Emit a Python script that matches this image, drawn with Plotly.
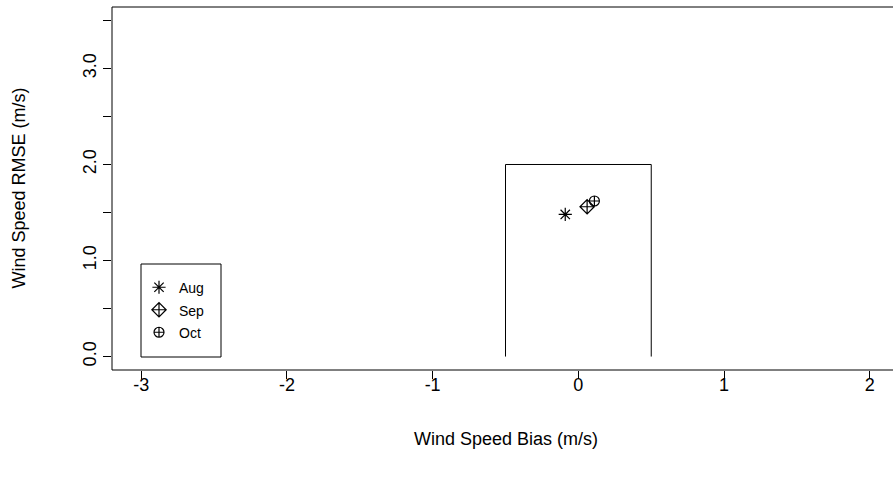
import plotly.graph_objects as go

# ---- data ----
months = ["Aug", "Sep", "Oct"]
bias_values = [-0.09, 0.06, 0.11]
rmse_values = [1.48, 1.56, 1.62]
month_symbols = ["asterisk-open", "diamond-cross-open", "circle-cross-open"]
month_sizes = [11, 11, 10]

target_bias_limits = [-0.5, 0.5]
target_rmse_limit = 2.0

x_tick_values = [-3, -2, -1, 0, 1, 2]
x_tick_labels = ["-3", "-2", "-1", "0", "1", "2"]
y_tick_values = [0, 0.5, 1, 1.5, 2, 2.5, 3, 3.5]
y_tick_labels = ["0.0", "", "1.0", "", "2.0", "", "3.0", ""]

x_title = "Wind Speed Bias (m/s)"
y_title = "Wind Speed RMSE (m/s)"

xlim = [-3, 2]
ylim = [0, 3.5]

# ---- layout constants ----
W, H = 893, 485
ML, MR, MT, MB = 112, 0, 7, 115
FONT = "Liberation Sans, Arial, Helvetica, sans-serif"
FS = 18
LEG_FS = 14

def expand(lim, f=0.04):
    d = (lim[1] - lim[0]) * f
    return [lim[0] - d, lim[1] + d]

xr_full = expand(xlim)
yr = expand(ylim)
# plot region of the original extends ~6px beyond the image on the right
px_per_x = (W - ML + 6) / (xr_full[1] - xr_full[0])
xr = [xr_full[0], xr_full[0] + (W - ML) / px_per_x]

fig = go.Figure()

# target box (three sides, open at bottom)
fig.add_trace(go.Scatter(
    x=[target_bias_limits[0], target_bias_limits[0], target_bias_limits[1], target_bias_limits[1]],
    y=[0, target_rmse_limit, target_rmse_limit, 0],
    mode="lines", line=dict(color="black", width=1),
    showlegend=False, hoverinfo="skip"))

for m, xb, yb, sym, sz in zip(months, bias_values, rmse_values, month_symbols, month_sizes):
    fig.add_trace(go.Scatter(
        x=[xb], y=[yb], mode="markers",
        name="<span style='font-size:%dpx'>%s</span>" % (LEG_FS, m),
        marker=dict(symbol=sym, size=sz, color="black", line=dict(color="black", width=1.2))))

# frame (right side lies outside the image)
frame = dict(type="line", xref="paper", yref="paper", line=dict(color="black", width=1))
shapes = [
    dict(frame, x0=0, x1=0, y0=0, y1=1),
    dict(frame, x0=0, x1=1, y0=1, y1=1),
    dict(frame, x0=0, x1=1, y0=0, y1=0),
]
pw, ph = W - ML - MR, H - MT - MB
def px2paper_x(p):
    return (p - ML) / pw
def px2paper_y(p):
    return (H - MB - p) / ph
# legend box
shapes.append(dict(type="rect", xref="paper", yref="paper",
                   x0=px2paper_x(141), x1=px2paper_x(221),
                   y0=px2paper_y(357), y1=px2paper_y(264),
                   line=dict(color="black", width=1), fillcolor="rgba(0,0,0,0)"))

fig.update_layout(
    width=W, height=H,
    margin=dict(l=ML, r=MR, t=MT, b=MB, pad=0),
    paper_bgcolor="white", plot_bgcolor="white",
    font=dict(family=FONT, size=FS, color="black"),
    shapes=shapes,
    showlegend=True,
    legend=dict(x=px2paper_x(139), y=px2paper_y(271), xanchor="left", yanchor="top",
                bgcolor="rgba(0,0,0,0)", borderwidth=0,
                font=dict(family=FONT, size=15, color="black"),
                itemwidth=30, tracegroupgap=0),
    annotations=[
        dict(text=x_title, x=(xlim[0] + xlim[1]) / 2, xref="x", y=0, yref="paper",
             xanchor="center", yanchor="middle", yshift=-69, showarrow=False,
             font=dict(family=FONT, size=FS, color="black")),
        dict(text=y_title, x=0, xref="paper", y=(ylim[0] + ylim[1]) / 2, yref="y",
             xanchor="center", yanchor="middle", xshift=-94, textangle=-90, showarrow=False,
             font=dict(family=FONT, size=FS, color="black")),
    ],
)

fig.update_xaxes(range=xr, tickvals=x_tick_values, ticktext=x_tick_labels,
                 ticks="outside", ticklen=8, tickwidth=1, tickcolor="black",
                 showgrid=False, zeroline=False, showline=False,
                 ticklabelstandoff=-10, tickfont=dict(family=FONT, size=FS, color="black"))
fig.update_yaxes(range=yr, tickvals=y_tick_values, ticktext=y_tick_labels,
                 ticks="outside", ticklen=8, tickwidth=1, tickcolor="black",
                 showgrid=False, zeroline=False, showline=False, tickangle=-90,
                 ticklabelstandoff=0, tickfont=dict(family=FONT, size=FS, color="black"))

fig.write_html("out.html", post_script="document.body.style.margin='0px';",
               config={"displayModeBar": False})
